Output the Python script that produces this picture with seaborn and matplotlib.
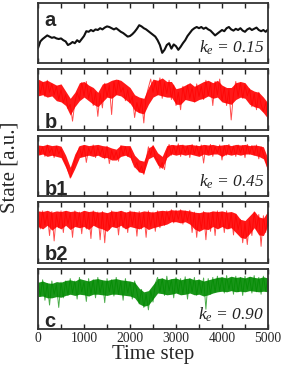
import numpy as np
import pandas as pd
import seaborn as sns
import matplotlib.pyplot as plt

# time axis (one sample every 50 steps), coarser axis for the dense band of the noisy traces
time_steps = np.linspace(0, 5000, 101)
band_steps = np.linspace(0, 5000, 51)

# normalised state values (0 = panel bottom, 1 = panel top)
state_a = [0.25, 0.36, 0.40, 0.43, 0.46, 0.44, 0.42, 0.43, 0.41, 0.40,
           0.41, 0.38, 0.36, 0.30, 0.32, 0.35, 0.33, 0.38, 0.35, 0.40,
           0.45, 0.53, 0.52, 0.55, 0.53, 0.56, 0.55, 0.58, 0.56, 0.59,
           0.61, 0.60, 0.58, 0.56, 0.58, 0.55, 0.52, 0.50, 0.47, 0.44,
           0.45, 0.48, 0.52, 0.57, 0.63, 0.61, 0.58, 0.56, 0.53, 0.50,
           0.47, 0.44, 0.38, 0.30, 0.17, 0.22, 0.30, 0.33, 0.24, 0.31,
           0.28, 0.22, 0.27, 0.33, 0.38, 0.45, 0.50, 0.55, 0.58, 0.60,
           0.58, 0.60, 0.57, 0.59, 0.56, 0.54, 0.50, 0.46, 0.49, 0.52,
           0.55, 0.53, 0.58, 0.60, 0.56, 0.54, 0.57, 0.55, 0.58, 0.54,
           0.52, 0.56, 0.58, 0.55, 0.57, 0.59, 0.55, 0.53, 0.55, 0.52,
           0.56]

state_b = [0.80, 0.60, 0.78, 0.55, 0.82, 0.62, 0.76, 0.58,
           0.72, 0.50, 0.66, 0.45,
           0.58, 0.35, 0.42, 0.14,
           0.45, 0.62, 0.50,
           0.78, 0.56, 0.80, 0.52,
           0.68, 0.40, 0.62, 0.22, 0.60, 0.36,
           0.77, 0.55, 0.74, 0.25,
           0.80, 0.58, 0.82, 0.62,
           0.70, 0.48, 0.66, 0.44,
           0.55, 0.20, 0.45, 0.28, 0.50, 0.11,
           0.55, 0.70, 0.84, 0.62,
           0.80, 0.58, 0.86, 0.52, 0.78, 0.60, 0.82, 0.50, 0.74,
           0.40, 0.62, 0.33,
           0.72, 0.50, 0.74, 0.52, 0.70, 0.46, 0.76, 0.55, 0.72,
           0.50, 0.82, 0.56, 0.78, 0.40, 0.80, 0.58, 0.84,
           0.48, 0.70, 0.40, 0.66, 0.16, 0.60,
           0.80, 0.55, 0.78, 0.52, 0.74, 0.56,
           0.68, 0.38, 0.60, 0.33, 0.62, 0.42,
           0.30, 0.45, 0.16]

state_b1 = [0.84, 0.70, 0.82, 0.66, 0.85, 0.72, 0.80, 0.64, 0.83, 0.70, 0.78,
            0.62, 0.55, 0.42, 0.30, 0.45, 0.58, 0.70,
            0.82, 0.66, 0.84, 0.56, 0.80, 0.70, 0.85, 0.64, 0.82, 0.68, 0.80, 0.62, 0.83, 0.54,
            0.76, 0.62, 0.74, 0.58,
            0.84, 0.68, 0.82, 0.66, 0.80,
            0.58, 0.48, 0.56, 0.40, 0.50, 0.36, 0.60,
            0.82, 0.68, 0.84, 0.64,
            0.60, 0.46, 0.56, 0.44,
            0.72, 0.86, 0.68, 0.84, 0.70, 0.87, 0.66, 0.85, 0.72, 0.83,
            0.64, 0.86, 0.70, 0.84, 0.68, 0.85, 0.55, 0.84, 0.70, 0.86,
            0.66, 0.82, 0.72, 0.85, 0.60, 0.84, 0.68, 0.86, 0.70, 0.83,
            0.66, 0.85, 0.72, 0.84, 0.64, 0.86, 0.70, 0.84, 0.68, 0.85,
            0.62, 0.82, 0.70,
            0.60, 0.44]

state_b2 = [0.84, 0.56, 0.86, 0.62, 0.82, 0.45, 0.85, 0.36, 0.80, 0.58,
            0.86, 0.50, 0.84, 0.64, 0.82, 0.42, 0.86, 0.60, 0.84, 0.48,
            0.85, 0.56, 0.83, 0.40, 0.86, 0.62, 0.84, 0.38, 0.85, 0.33,
            0.82, 0.55, 0.86, 0.60, 0.84, 0.46, 0.85, 0.58, 0.83, 0.50,
            0.86, 0.62, 0.84, 0.44, 0.85, 0.56, 0.82, 0.42, 0.86, 0.60,
            0.84, 0.52, 0.86, 0.58, 0.84, 0.62, 0.86,
            0.70, 0.88, 0.66, 0.87, 0.72, 0.88, 0.64, 0.86, 0.70, 0.87,
            0.50, 0.84, 0.42, 0.82, 0.56, 0.85, 0.38, 0.83, 0.52, 0.84, 0.45, 0.86, 0.58,
            0.84, 0.50, 0.86, 0.56, 0.82, 0.46, 0.80,
            0.55, 0.72, 0.33, 0.66, 0.30, 0.70, 0.45,
            0.84, 0.55, 0.80, 0.27, 0.78, 0.50, 0.84]

state_c = [0.78, 0.55, 0.82, 0.48, 0.76, 0.40, 0.80, 0.58, 0.74, 0.36, 0.78, 0.52, 0.80, 0.56,
           0.84, 0.60, 0.80, 0.50, 0.86, 0.62, 0.78, 0.46, 0.84, 0.58,
           0.82, 0.52, 0.86, 0.60, 0.80, 0.44, 0.84, 0.62, 0.82, 0.55,
           0.86, 0.58, 0.80, 0.48, 0.84, 0.60, 0.78, 0.50, 0.80,
           0.62, 0.42, 0.66, 0.36, 0.58, 0.32, 0.64, 0.45, 0.76,
           0.86, 0.62, 0.84, 0.56, 0.88, 0.64, 0.82, 0.52, 0.86, 0.60,
           0.84, 0.58, 0.87, 0.50, 0.84, 0.62, 0.86, 0.56, 0.82, 0.60,
           0.85, 0.33, 0.84, 0.58, 0.86, 0.62,
           0.88, 0.64, 0.86, 0.60, 0.89, 0.66, 0.84, 0.58, 0.88, 0.62,
           0.86, 0.56, 0.88, 0.66, 0.85, 0.60, 0.89, 0.62, 0.86, 0.58,
           0.88, 0.64, 0.84]

# top and bottom of the dense band of each noisy trace, every 100 steps
band_b_hi = [0.84, 0.80, 0.82, 0.78, 0.74, 0.76, 0.64, 0.52, 0.62, 0.78,
             0.80, 0.74, 0.70, 0.62, 0.76, 0.78, 0.82, 0.84, 0.82, 0.76,
             0.70, 0.58, 0.54, 0.52, 0.70, 0.84, 0.82, 0.86, 0.80, 0.80,
             0.68, 0.70, 0.74, 0.78, 0.72, 0.76, 0.80, 0.82, 0.78, 0.82,
             0.74, 0.70, 0.70, 0.78, 0.80, 0.78, 0.68, 0.64, 0.62, 0.54,
             0.44]
band_b_lo = [0.56, 0.58, 0.54, 0.56, 0.48, 0.46, 0.40, 0.24, 0.38, 0.48,
             0.54, 0.48, 0.42, 0.38, 0.46, 0.54, 0.52, 0.58, 0.56, 0.50,
             0.44, 0.32, 0.28, 0.26, 0.42, 0.54, 0.58, 0.56, 0.54, 0.54,
             0.42, 0.42, 0.50, 0.48, 0.46, 0.50, 0.52, 0.56, 0.52, 0.54,
             0.46, 0.44, 0.42, 0.50, 0.54, 0.52, 0.42, 0.38, 0.36, 0.28,
             0.18]

band_b1_hi = [0.85, 0.84, 0.86, 0.84, 0.85, 0.83, 0.68, 0.48, 0.70, 0.84,
              0.86, 0.84, 0.85, 0.86, 0.84, 0.83, 0.80, 0.78, 0.85, 0.84,
              0.84, 0.68, 0.60, 0.58, 0.80, 0.85, 0.72, 0.66, 0.84, 0.86,
              0.85, 0.86, 0.85, 0.86, 0.85, 0.84, 0.86, 0.85, 0.86, 0.84,
              0.85, 0.86, 0.84, 0.86, 0.85, 0.86, 0.84, 0.85, 0.84, 0.82,
              0.62]
band_b1_lo = [0.68, 0.70, 0.66, 0.68, 0.66, 0.64, 0.48, 0.30, 0.46, 0.64,
              0.66, 0.68, 0.66, 0.68, 0.64, 0.64, 0.60, 0.60, 0.66, 0.68,
              0.64, 0.48, 0.40, 0.38, 0.62, 0.66, 0.52, 0.46, 0.64, 0.70,
              0.68, 0.70, 0.68, 0.70, 0.68, 0.66, 0.70, 0.68, 0.70, 0.70,
              0.66, 0.70, 0.68, 0.70, 0.68, 0.70, 0.70, 0.68, 0.66, 0.62,
              0.42]

band_b2_hi = [0.86, 0.85, 0.87, 0.84, 0.86, 0.85, 0.87, 0.85, 0.86, 0.84,
              0.87, 0.85, 0.86, 0.84, 0.85, 0.83, 0.86, 0.85, 0.87, 0.84,
              0.86, 0.85, 0.84, 0.86, 0.85, 0.84, 0.86, 0.87, 0.86, 0.88,
              0.87, 0.88, 0.87, 0.86, 0.84, 0.83, 0.85, 0.84, 0.86, 0.85,
              0.86, 0.84, 0.85, 0.82, 0.72, 0.70, 0.78, 0.86, 0.76, 0.74,
              0.86]
band_b2_lo = [0.60, 0.56, 0.62, 0.54, 0.60, 0.56, 0.62, 0.55, 0.60, 0.58,
              0.60, 0.55, 0.62, 0.58, 0.56, 0.52, 0.60, 0.58, 0.62, 0.56,
              0.60, 0.58, 0.56, 0.60, 0.55, 0.58, 0.60, 0.62, 0.64, 0.68,
              0.68, 0.66, 0.68, 0.64, 0.56, 0.52, 0.56, 0.55, 0.60, 0.56,
              0.60, 0.56, 0.58, 0.50, 0.42, 0.40, 0.48, 0.58, 0.46, 0.45,
              0.62]

band_c_hi = [0.78, 0.80, 0.77, 0.76, 0.79, 0.78, 0.81, 0.82, 0.80, 0.84,
             0.82, 0.80, 0.83, 0.84, 0.82, 0.81, 0.83, 0.84, 0.82, 0.81,
             0.80, 0.78, 0.68, 0.62, 0.64, 0.74, 0.84, 0.85, 0.82, 0.84,
             0.85, 0.82, 0.84, 0.85, 0.82, 0.83, 0.80, 0.82, 0.84, 0.86,
             0.87, 0.85, 0.88, 0.86, 0.87, 0.85, 0.88, 0.86, 0.85, 0.87,
             0.85]
band_c_lo = [0.54, 0.55, 0.52, 0.52, 0.54, 0.53, 0.56, 0.58, 0.56, 0.58,
             0.57, 0.55, 0.58, 0.58, 0.57, 0.56, 0.58, 0.58, 0.57, 0.56,
             0.55, 0.52, 0.42, 0.38, 0.40, 0.50, 0.60, 0.59, 0.57, 0.58,
             0.60, 0.57, 0.58, 0.60, 0.57, 0.58, 0.55, 0.57, 0.60, 0.62,
             0.63, 0.62, 0.64, 0.62, 0.63, 0.62, 0.64, 0.63, 0.62, 0.63,
             0.62]

panel_labels = ['a', 'b', 'b1', 'b2', 'c']
panel_series = [state_a, state_b, state_b1, state_b2, state_c]
panel_bands = [None, (band_b_lo, band_b_hi), (band_b1_lo, band_b1_hi),
               (band_b2_lo, band_b2_hi), (band_c_lo, band_c_hi)]
panel_colors = ['#111111', '#ff0000', '#ff0000', '#ff0000', '#008a00']
ke_labels = {0: '0.15', 2: '0.45', 4: '0.90'}

sns.set_style('white')
plt.rcParams['font.family'] = ['Liberation Serif', 'DejaVu Serif']
plt.rcParams['mathtext.fontset'] = 'custom'
plt.rcParams['mathtext.it'] = 'Liberation Serif:italic'
plt.rcParams['mathtext.rm'] = 'Liberation Serif'

fig, axes = plt.subplots(5, 1, sharex=True, figsize=(2.86, 3.71), dpi=100)
fig.subplots_adjust(left=0.133, right=0.937, top=0.992, bottom=0.113, hspace=0.107)

label_y = [0.62, 0.03, 0.02, 0.05, 0.03]

for i, ax in enumerate(axes):
    df = pd.DataFrame({'t': time_steps, 'v': panel_series[i]})
    if panel_bands[i] is None:
        sns.lineplot(data=df, x='t', y='v', ax=ax, color=panel_colors[i],
                     linewidth=1.5, estimator=None)
    else:
        lo, hi = panel_bands[i]
        ax.fill_between(band_steps, lo, hi, color=panel_colors[i], alpha=0.9, linewidth=0)
        sns.lineplot(data=df, x='t', y='v', ax=ax, color=panel_colors[i],
                     linewidth=0.7, estimator=None, alpha=0.7)
    ax.set_xlim(0, 5000)
    ax.set_ylim(0, 1)
    ax.set_ylabel('')
    ax.set_xlabel('')
    ax.set_yticks([])
    ax.set_xticks(np.arange(0, 5001, 500))
    ax.tick_params(axis='x', direction='in', top=True, bottom=True,
                   length=3.5, width=1, color='#222222', labelsize=9.8, pad=2)
    for sp in ax.spines.values():
        sp.set_color('#333333')
        sp.set_linewidth(1.3)
    ax.text(0.028, label_y[i], panel_labels[i], transform=ax.transAxes,
            family='Liberation Sans', weight='bold', fontsize=14.5,
            va='baseline', ha='left')
    if i in ke_labels:
        ax.text(0.985, 0.17 if i == 0 else 0.16, r'$k_e$ = ' + ke_labels[i],
                transform=ax.transAxes, fontsize=12.5, style='italic',
                ha='right', va='baseline', color='#222222')

axes[-1].set_xticklabels(['0', '', '1000', '', '2000', '', '3000', '', '4000', '', '5000'])
axes[-1].set_xlabel('Time step', fontsize=15, labelpad=0)
fig.text(0.036, 0.55, 'State [a.u.]', rotation=90, va='center', ha='center', fontsize=15)

plt.savefig('out.png', dpi=100)
